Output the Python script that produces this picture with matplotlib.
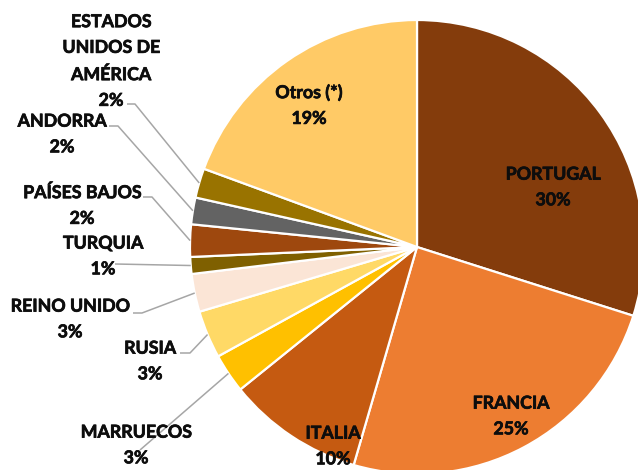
import matplotlib
matplotlib.use("Agg")
import matplotlib.pyplot as plt
import matplotlib.patheffects as pe
import numpy as np

paises = ["PORTUGAL", "FRANCIA", "ITALIA", "MARRUECOS", "RUSIA", "REINO UNIDO",
          "TURQUIA", "PAÍSES BAJOS", "ANDORRA", "ESTADOS\nUNIDOS DE\nAMÉRICA", "Otros (*)"]
cuota = [29.9, 24.6, 9.7, 2.8, 3.4, 2.7, 1.2, 2.3, 1.9, 2.1, 19.4]
colores = ["#843C0C", "#ED7D31", "#C55A11", "#FFC000", "#FFD966", "#FBE5D6",
           "#7F6000", "#9E480E", "#636363", "#997300", "#FFCA66"]

plt.rcParams['font.family'] = ['Lato', 'DejaVu Sans']

# pie geometry in pixels (figure is 638x470 at dpi 100)
W, H = 638, 470
cx, cy, R = 417, 247, 227


def px(x, y):
    return (x - cx) / R, (cy - y) / R


fig = plt.figure(figsize=(W / 100, H / 100), dpi=100, facecolor="white")
ax = fig.add_axes([0, 0, 1, 1])
wedges, _ = ax.pie(cuota, colors=colores, startangle=90, counterclock=False,
                   radius=1, wedgeprops=dict(edgecolor="white", linewidth=1.6))
ax.set_aspect("auto")
ax.set_xlim(-cx / R, (W - cx) / R)
ax.set_ylim((cy - H) / R, cy / R)
ax.axis("off")

# label block centres (pixels) and leader line starts
label_pos = {
    0: (553, 187), 1: (511, 416), 2: (333, 446), 3: (136, 445), 4: (150, 361),
    5: (70, 319), 6: (103, 256), 7: (82, 205), 8: (62, 134), 9: (111, 61), 10: (309, 105),
}
leaders = {
    3: [(140, 450)],
    4: [(180, 353), (190, 353)],
    5: [(133, 313), (142, 313)],
    6: [(115, 264)],
    7: [(143, 197), (152, 197)],
    8: [(109, 126), (118, 126)],
    9: [(127, 104), (135, 104)],
}

for i, w in enumerate(wedges):
    txt = f"{paises[i]}\n{round(cuota[i])}%"
    x, y = px(*label_pos[i])
    ax.text(x, y, txt, ha="center", va="center", fontsize=12.8, fontweight="bold",
            color="#0D0D0D", linespacing=1.62, zorder=5,
            path_effects=[pe.withStroke(linewidth=0.5, foreground="#0D0D0D")])
    if i in leaders:
        ang = np.deg2rad((w.theta1 + w.theta2) / 2)
        pts = [px(*p) for p in leaders[i]] + [(np.cos(ang), np.sin(ang))]
        xs, ys = zip(*pts)
        ax.plot(xs, ys, color="#A6A6A6", lw=1.1, zorder=1, solid_capstyle="butt")

fig.savefig("out.png", dpi=100, facecolor="white")
